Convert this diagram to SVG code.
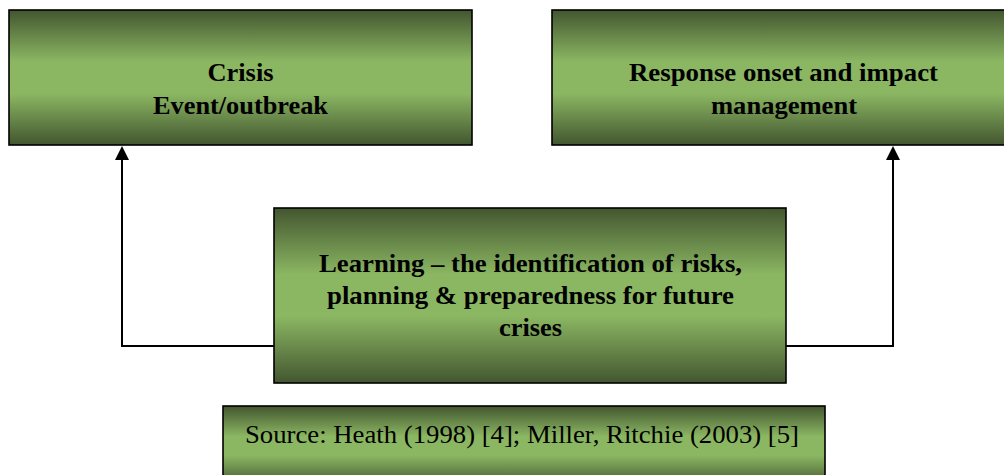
<svg xmlns="http://www.w3.org/2000/svg" width="1004" height="475" viewBox="0 0 1004 475">
<style>
.box{fill:url(#g);stroke:#000;stroke-width:1.6}
.t{font-family:"Liberation Serif","Times New Roman",serif;font-weight:bold;font-size:26px;fill:#000;text-anchor:middle}
.s{font-family:"Liberation Serif","Times New Roman",serif;font-size:26px;fill:#000;text-anchor:middle}
.c{fill:none;stroke:#000;stroke-width:2}
</style>
<defs>
<linearGradient id="g" x1="0" y1="0" x2="0" y2="1">
<stop offset="0" stop-color="#435630"/>
<stop offset="0.38" stop-color="#8bb662"/>
<stop offset="0.62" stop-color="#8bb662"/>
<stop offset="1" stop-color="#435630"/>
</linearGradient>
<marker id="ah" markerWidth="15" markerHeight="14" refX="7.5" refY="1" orient="auto-start-reverse" markerUnits="userSpaceOnUse" viewBox="0 0 15 14">
<path d="M7.5,0 L15,14 L0,14 Z" fill="#000" transform="rotate(0)"/>
</marker>
</defs>
<rect width="1004" height="475" fill="#fff"/>
<g id="connectors">
<path class="c" d="M274,346 H122 V160"/>
<path d="M122,146 L129,160 L115,160 Z" fill="#000"/>
<path class="c" d="M786,346 H893 V160"/>
<path d="M893,146 L900,160 L886,160 Z" fill="#000"/>
</g>
<g id="crisis">
<rect class="box" x="9" y="10" width="463" height="135"/>
<text class="t" x="240.5" y="81" textLength="66" lengthAdjust="spacingAndGlyphs">Crisis</text>
<text class="t" x="240.5" y="114" textLength="175" lengthAdjust="spacingAndGlyphs">Event/outbreak</text>
</g>
<g id="response">
<rect class="box" x="552" y="10" width="464" height="135"/>
<text class="t" x="783.5" y="81" textLength="309" lengthAdjust="spacingAndGlyphs">Response onset and impact</text>
<text class="t" x="784" y="114" textLength="146" lengthAdjust="spacingAndGlyphs">management</text>
</g>
<g id="learning">
<rect class="box" x="274" y="208" width="512" height="175"/>
<text class="t" x="530.5" y="272" textLength="423" lengthAdjust="spacingAndGlyphs">Learning – the identification of risks,</text>
<text class="t" x="530.5" y="304" textLength="407" lengthAdjust="spacingAndGlyphs">planning &amp; preparedness for future</text>
<text class="t" x="530.5" y="336" textLength="63" lengthAdjust="spacingAndGlyphs">crises</text>
</g>
<g id="source">
<rect class="box" x="223" y="406" width="602" height="80"/>
<text class="s" x="522" y="443" textLength="554" lengthAdjust="spacingAndGlyphs">Source: Heath (1998) [4]; Miller, Ritchie (2003) [5]</text>
</g>
</svg>
